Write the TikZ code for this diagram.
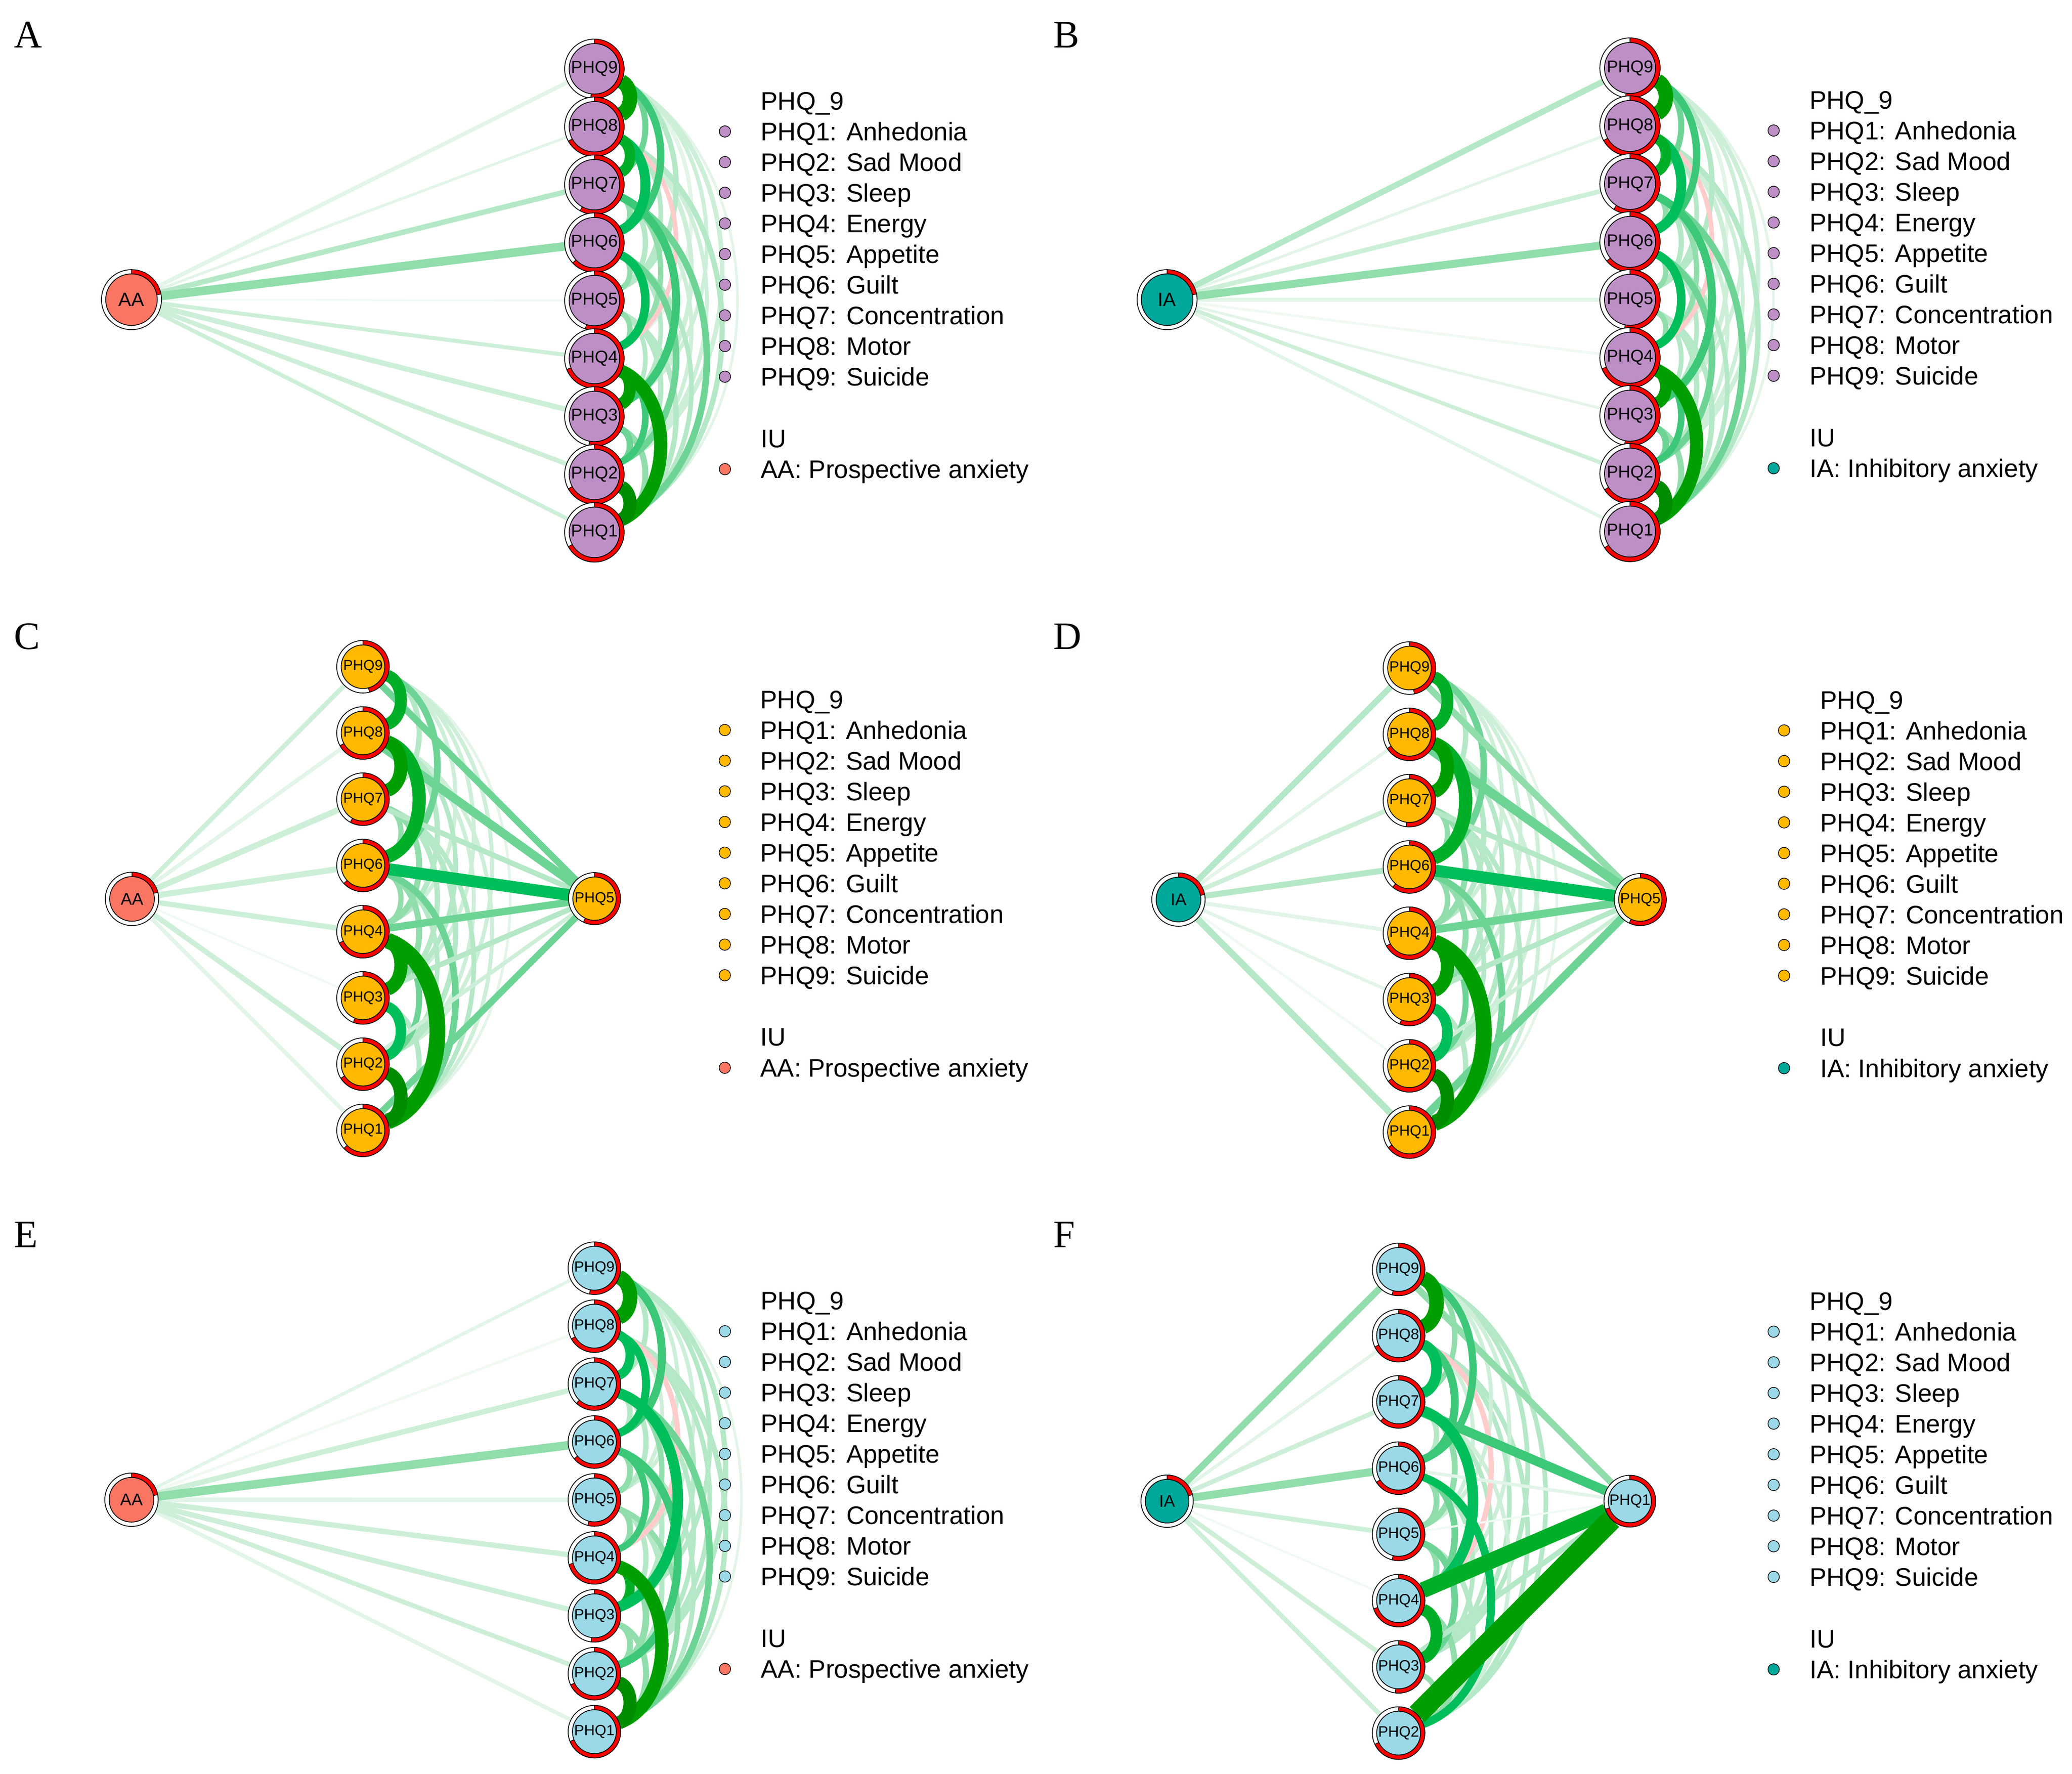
\documentclass[tikz,border=0pt]{standalone}
\usepackage{fontspec}
\setmainfont{Liberation Sans}
\newfontfamily\letterfont{Liberation Serif}
\definecolor{npurple}{RGB}{190,143,198}
\definecolor{norange}{RGB}{255,185,0}
\definecolor{nblue}{RGB}{155,217,232}
\definecolor{nsalmon}{RGB}{250,118,98}
\definecolor{nteal}{RGB}{0,168,155}
\definecolor{g11}{RGB}{0,140,0}
\definecolor{g10}{RGB}{0,158,0}
\definecolor{g9}{RGB}{0,174,40}
\definecolor{g8}{RGB}{0,190,90}
\definecolor{g7}{RGB}{60,200,120}
\definecolor{g6}{RGB}{110,212,150}
\definecolor{g5}{RGB}{145,221,172}
\definecolor{g4}{RGB}{180,232,198}
\definecolor{g3}{RGB}{205,239,216}
\definecolor{g2}{RGB}{226,245,232}
\definecolor{g1}{RGB}{240,250,243}
\definecolor{ng}{RGB}{255,204,204}
% invisible node used for anchoring connectors
\newcommand\nd[4]{\node[circle,inner sep=0pt,outer sep=0pt,minimum size={2*#4}] (#1) at (#2,{1342.5-(#3)}) {};}
% node drawing: name, R, r, fill, fraction, font size, label
\newcommand\deco[7]{%
  \fill[white] (#1.center) circle[radius=#2];
  \fill[red,shift={(#1.center)}] (90:#2) arc[start angle=90,delta angle={-360*#5},radius=#2] -- ({90-360*#5}:#3) arc[start angle={90-360*#5},delta angle={360*#5},radius=#3] -- cycle;
  \draw[line width=0.5pt,shift={(#1.center)}] (90:#3) -- (90:#2) ({90-360*#5}:#3) -- ({90-360*#5}:#2);
  \draw[line width=0.6pt] (#1.center) circle[radius=#2];
  \filldraw[fill=#4,line width=0.6pt] (#1.center) circle[radius=#3];
  \node[font=\fontsize{#6}{#6}\selectfont,inner sep=0pt] (#1-t) at (#1.center) {#7};
}
\newcommand\ce[4]{\draw[line width=#3pt,draw=#4] (#1) to[bend left=\bnd] (#2);}
\newcommand\se[4]{\draw[line width=#3pt,draw=#4] (#1) -- (#2);}
% legend: prefix, xdot, xtext, yheader, phq colour, iu colour, iu text
\newcommand\legend[7]{%
  \node[leg] (#1h) at (#3,{1342.5-(#4+6.9)}) {PHQ\_9};
  \foreach \kk/\lbl in {1/Anhedonia,2/Sad Mood,3/Sleep,4/Energy,5/Appetite,6/Guilt,7/Concentration,8/Motor,9/Suicide}{
    \node[leg] (#1l\kk) at (#3,{1342.5-(#4+23.2*\kk+6.9)}) {PHQ\kk: \lbl};
    \node[ldot,fill=#5] (#1d\kk) at (#2,{1342.5-(#4+23.2*\kk)}) {};
  }
  \node[leg] (#1i) at (#3,{1342.5-(#4+255.4+6.9)}) {IU};
  \node[leg] (#1j) at (#3,{1342.5-(#4+278.8+6.9)}) {#7};
  \node[ldot,fill=#6] (#1e) at (#2,{1342.5-(#4+278.8)}) {};
}
\newcommand\colAB[1]{%
 \ce{#19}{#11}{2}{g2}\ce{#19}{#14}{3}{g2}\ce{#19}{#13}{3}{g3}\ce{#18}{#12}{3}{g3}
 \ce{#17}{#12}{3}{g3}\ce{#19}{#12}{3.5}{g3}\ce{#18}{#13}{3.5}{g3}\ce{#18}{#11}{4}{g4}
 \ce{#19}{#15}{4}{g4}\ce{#18}{#15}{3.5}{g4}\ce{#16}{#11}{3.5}{g4}\ce{#16}{#13}{3.5}{g4}
 \ce{#17}{#15}{4}{g4}\ce{#15}{#13}{3.5}{g4}\ce{#15}{#12}{4}{g4}\ce{#15}{#11}{4}{g4}
 \ce{#17}{#16}{4.5}{g5}\ce{#16}{#15}{4}{g5}\ce{#15}{#14}{4}{g5}\ce{#17}{#14}{4}{g5}
 \ce{#13}{#11}{4.5}{g5}\ce{#18}{#14}{3.5}{ng}\ce{#16}{#12}{5}{g6}\ce{#17}{#11}{5}{g6}
 \ce{#13}{#12}{5}{g6}\ce{#19}{#17}{4.5}{g6}\ce{#19}{#16}{5.5}{g7}\ce{#17}{#13}{6}{g7}
 \ce{#14}{#12}{5}{g7}\ce{#16}{#14}{6.5}{g8}\ce{#18}{#16}{7.5}{g8}\ce{#18}{#17}{8}{g9}
 \ce{#14}{#13}{9}{g10}\ce{#14}{#11}{10}{g10}\ce{#19}{#18}{11}{g10}\ce{#12}{#11}{10}{g11}
}
\newcommand\colCDlo[1]{%
 \ce{#19}{#11}{2}{g2}\ce{#18}{#11}{3}{g3}\ce{#19}{#12}{3}{g3}\ce{#19}{#13}{3}{g3}
 \ce{#18}{#12}{3}{g3}\ce{#19}{#14}{3}{g3}\ce{#18}{#13}{3.5}{g4}\ce{#17}{#11}{3.5}{g4}
 \ce{#17}{#12}{4}{g4}\ce{#16}{#12}{3.5}{g4}\ce{#17}{#13}{4}{g4}\ce{#13}{#11}{4}{g4}
 \ce{#19}{#17}{4}{g4}\ce{#18}{#14}{4}{g4}\ce{#17}{#16}{4}{g5}\ce{#16}{#13}{4.5}{g5}
 \ce{#17}{#14}{4.5}{g5}\ce{#16}{#14}{4}{g5}\ce{#14}{#12}{4.5}{g6}\ce{#16}{#11}{5}{g6}
 \ce{#19}{#16}{5}{g6}
}
\newcommand\colCDhi[1]{%
 \ce{#13}{#12}{8}{g8}\ce{#19}{#18}{9}{g9}\ce{#18}{#16}{10}{g9}
 \ce{#18}{#17}{10}{g10}\ce{#14}{#13}{10}{g10}\ce{#14}{#11}{12}{g10}\ce{#12}{#11}{10}{g11}
}
\begin{document}
\begin{tikzpicture}[x=1pt,y=1pt,
  leg/.style={anchor=base west,inner sep=0pt,font=\fontsize{19.2}{23}\selectfont},
  ldot/.style={circle,draw=black,line width=0.5pt,inner sep=0pt,minimum size=8.6pt},
  plet/.style={anchor=base west,inner sep=0pt,font=\letterfont\fontsize{29.4}{30}\selectfont}]
\useasboundingbox (0,0) rectangle (1568,1342.5);
\fill[white] (0,0) rectangle (1568,1342.5);

% ---------------- node anchors ----------------
\foreach \kk in {1,...,9}{\nd{a\kk}{449.8}{52.1+(9-\kk)*43.85}{22.5}}
\nd{aU}{99.5}{226.8}{22.7}
\foreach \kk in {1,...,9}{\nd{b\kk}{1233.5}{51.5+(9-\kk)*43.85}{22.8}}
\nd{bU}{883.2}{226.8}{22.7}
\foreach \kk/\pp in {9/0,8/1,7/2,6/3,4/4,3/5,2/6,1/7}{\nd{c\kk}{274.7}{504.6+\pp*50.13}{19.9}}
\nd{c5}{449.9}{680.1}{19.7}
\nd{cU}{99.9}{680.3}{20.2}
\foreach \kk/\pp in {9/0,8/1,7/2,6/3,4/4,3/5,2/6,1/7}{\nd{d\kk}{1066.6}{505.6+\pp*50.17}{19.9}}
\nd{d5}{1241.3}{680.8}{19.7}
\nd{dU}{891.8}{680.8}{20.2}
\foreach \kk in {1,...,9}{\nd{e\kk}{449.8}{959.8+(9-\kk)*43.84}{19.9}}
\nd{eU}{99.5}{1135}{20.2}
\foreach \kk/\pp in {9/0,8/1,7/2,6/3,5/4,4/5,3/6,2/7}{\nd{f\kk}{1058.4}{960.7+\pp*50.13}{19.9}}
\nd{f1}{1233.4}{1136.1}{19.6}
\nd{fU}{883.2}{1136.1}{19.8}

% ---------------- panel A edges ----------------
\def\bnd{65}
\se{aU}{a5}{1.5}{g1}\se{aU}{a8}{2}{g2}\se{aU}{a9}{3}{g2}\se{aU}{a4}{3}{g3}\se{aU}{a1}{3}{g3}
\se{aU}{a2}{3.5}{g3}\se{aU}{a3}{4}{g3}\se{aU}{a7}{4}{g4}\se{aU}{a6}{6.5}{g5}
\colAB{a}
% ---------------- panel B edges ----------------
\se{bU}{b4}{2}{g1}\se{bU}{b3}{2}{g2}\se{bU}{b8}{2}{g2}\se{bU}{b1}{2.5}{g2}\se{bU}{b5}{3}{g2}
\se{bU}{b2}{3}{g3}\se{bU}{b7}{3.5}{g3}\se{bU}{b9}{4.5}{g4}\se{bU}{b6}{6}{g5}
\colAB{b}
% ---------------- panel C edges ----------------
\def\bnd{70}
\se{cU}{c3}{1.5}{g1}\se{cU}{c8}{3}{g2}\se{cU}{c1}{3}{g2}\se{cU}{c9}{3.5}{g3}\se{cU}{c2}{4}{g3}
\se{cU}{c4}{4}{g3}\se{cU}{c6}{4.5}{g3}\se{cU}{c7}{4.5}{g3}
\colCDlo{c}
\se{c5}{c2}{3}{g3}\se{c5}{c7}{4}{g4}\se{c5}{c3}{4}{g4}\se{c5}{c9}{5}{g6}
\se{c5}{c4}{5.5}{g6}\se{c5}{c1}{5}{g6}\se{c5}{c8}{6.5}{g6}\se{c5}{c6}{9}{g8}
\colCDhi{c}
% ---------------- panel D edges ----------------
\se{dU}{d2}{2}{g1}\se{dU}{d3}{2.5}{g2}\se{dU}{d4}{3}{g2}\se{dU}{d8}{2.5}{g2}\se{dU}{d7}{3.5}{g3}
\se{dU}{d6}{4.5}{g4}\se{dU}{d9}{4.5}{g4}\se{dU}{d1}{5}{g4}
\colCDlo{d}
\se{d5}{d2}{3}{g3}\se{d5}{d7}{4}{g4}\se{d5}{d3}{4}{g4}\se{d5}{d9}{5}{g5}
\se{d5}{d4}{6}{g6}\se{d5}{d1}{6}{g6}\se{d5}{d8}{7}{g6}\se{d5}{d6}{9}{g8}
\colCDhi{d}
% ---------------- panel E edges ----------------
\se{eU}{e8}{2}{g1}\se{eU}{e9}{2.5}{g2}\se{eU}{e1}{3}{g2}\se{eU}{e5}{3.5}{g2}\se{eU}{e2}{3.5}{g3}
\se{eU}{e4}{4}{g3}\se{eU}{e3}{4}{g3}\se{eU}{e7}{4}{g3}\se{eU}{e6}{6.5}{g5}
\ce{e9}{e1}{2}{g2}\ce{e9}{e4}{3}{g3}\ce{e8}{e5}{3}{g3}\ce{e9}{e5}{3}{g3}\ce{e9}{e3}{3.5}{g4}
\ce{e9}{e2}{4}{g4}\ce{e8}{e3}{3.5}{g4}\ce{e8}{e2}{3.5}{g4}\ce{e8}{e1}{4}{g4}\ce{e7}{e6}{4}{g4}
\ce{e9}{e7}{4}{g4}\ce{e7}{e5}{4}{g4}\ce{e6}{e3}{4}{g4}\ce{e5}{e2}{4}{g4}\ce{e5}{e3}{4}{g4}
\ce{e7}{e2}{3.5}{g4}\ce{e6}{e1}{3.5}{g4}\ce{e6}{e5}{4.5}{g5}\ce{e5}{e4}{4.5}{g5}\ce{e3}{e1}{4.5}{g5}
\ce{e4}{e2}{5}{g5}\ce{e3}{e2}{4.5}{g5}\ce{e5}{e1}{4}{g5}\ce{e7}{e4}{4}{g5}\ce{e8}{e4}{4}{ng}
\ce{e7}{e1}{5}{g6}\ce{e6}{e4}{5}{g7}\ce{e9}{e6}{6}{g7}\ce{e6}{e2}{6}{g7}\ce{e8}{e6}{6}{g8}
\ce{e8}{e7}{7}{g8}\ce{e4}{e3}{7}{g9}\ce{e7}{e3}{8}{g8}\ce{e4}{e1}{10}{g10}\ce{e9}{e8}{11}{g10}
\ce{e2}{e1}{10}{g11}
% ---------------- panel F edges ----------------
\se{fU}{f4}{1.5}{g1}\se{fU}{f8}{2.5}{g2}\se{fU}{f5}{3.5}{g3}\se{fU}{f7}{3.5}{g3}\se{fU}{f3}{3.5}{g3}
\se{fU}{f2}{3.5}{g3}\se{fU}{f9}{5}{g5}\se{fU}{f6}{6}{g5}
\ce{f9}{f2}{3.5}{g4}\ce{f9}{f3}{3.5}{g4}\ce{f8}{f2}{3.5}{g4}\ce{f9}{f4}{3}{g3}\ce{f8}{f3}{3.5}{g4}
\ce{f9}{f5}{3}{g3}\ce{f8}{f5}{3}{g3}\ce{f7}{f3}{3.5}{g4}\ce{f6}{f3}{3.5}{g4}\ce{f7}{f2}{3}{g3}
\ce{f7}{f6}{4}{g4}\ce{f5}{f2}{4}{g4}\ce{f9}{f7}{4}{g5}\ce{f7}{f5}{4.5}{g5}\ce{f6}{f5}{4.5}{g5}
\ce{f5}{f4}{4.5}{g5}\ce{f4}{f2}{4.5}{g5}\ce{f3}{f2}{4}{g5}\ce{f5}{f3}{5}{g6}\ce{f6}{f4}{5}{g6}
\ce{f8}{f4}{4}{ng}
\se{f1}{f5}{1.5}{g1}\se{f1}{f6}{2.5}{g2}
\se{f1}{f3}{4}{g4}\se{f1}{f9}{5}{g5}
\ce{f9}{f6}{5.5}{g7}\ce{f8}{f6}{6}{g7}
\se{f1}{f7}{7}{g7}
\ce{f6}{f2}{6}{g8}\ce{f8}{f7}{8}{g8}\ce{f7}{f4}{8}{g8}\ce{f4}{f3}{9}{g9}\ce{f9}{f8}{11}{g10}
\se{f1}{f4}{12}{g9}\se{f1}{f2}{16}{g10}

% ---------------- nodes ----------------
\foreach \kk/\fr in {9/.52,8/.67,7/.58,6/.63,5/.55,4/.69,3/.53,2/.67,1/.67}{\deco{a\kk}{22.5}{19.1}{npurple}{\fr}{13}{PHQ\kk}}
\deco{aU}{22.7}{19.5}{nsalmon}{.22}{14.5}{AA}
\foreach \kk/\fr in {9/.525,8/.67,7/.59,6/.64,5/.53,4/.69,3/.53,2/.66,1/.66}{\deco{b\kk}{22.8}{19.3}{npurple}{\fr}{12.9}{PHQ\kk}}
\deco{bU}{22.7}{19.5}{nteal}{.22}{14.5}{IA}
\foreach \kk/\fr in {9/.46,8/.67,7/.58,6/.63,4/.68,3/.56,2/.66,1/.63}{\deco{c\kk}{19.9}{16.5}{norange}{\fr}{11}{PHQ\kk}}
\deco{c5}{19.7}{16.4}{norange}{.57}{11}{PHQ5}
\deco{cU}{20.2}{16.9}{nsalmon}{.21}{12.8}{AA}
\foreach \kk/\fr in {9/.47,8/.66,7/.52,6/.61,4/.67,3/.56,2/.65,1/.65}{\deco{d\kk}{19.9}{16.5}{norange}{\fr}{11.2}{PHQ\kk}}
\deco{d5}{19.7}{16.4}{norange}{.57}{11.2}{PHQ5}
\deco{dU}{20.2}{16.9}{nteal}{.22}{12.8}{IA}
\foreach \kk/\fr in {9/.53,8/.67,7/.62,6/.64,5/.54,4/.71,3/.52,2/.68,1/.69}{\deco{e\kk}{19.9}{16.6}{nblue}{\fr}{11.2}{PHQ\kk}}
\deco{eU}{20.2}{16.9}{nsalmon}{.22}{12.8}{AA}
\foreach \kk/\fr in {9/.54,8/.68,7/.62,6/.66,5/.54,4/.70,3/.52,2/.68}{\deco{f\kk}{19.9}{16.6}{nblue}{\fr}{11.4}{PHQ\kk}}
\deco{f1}{19.6}{16.3}{nblue}{.70}{11.4}{PHQ1}
\deco{fU}{19.8}{16.5}{nteal}{.21}{12.7}{IA}

% ---------------- legends ----------------
\legend{la}{548.6}{575.6}{76.3}{npurple}{nsalmon}{AA: Prospective anxiety}
\legend{lb}{1342.2}{1369.3}{75.6}{npurple}{nteal}{IA: Inhibitory anxiety}
\legend{lc}{548.5}{575.2}{529.3}{norange}{nsalmon}{AA: Prospective anxiety}
\legend{ld}{1350.1}{1377.3}{529.6}{norange}{nteal}{IA: Inhibitory anxiety}
\legend{le}{548.6}{575.6}{984.3}{nblue}{nsalmon}{AA: Prospective anxiety}
\legend{lf}{1342.2}{1369.3}{984.6}{nblue}{nteal}{IA: Inhibitory anxiety}

% ---------------- panel letters ----------------
\node[plet] (pA) at (10.4,{1342.5-36.1}) {A};
\node[plet] (pB) at (797,{1342.5-36.1}) {B};
\node[plet] (pC) at (10.4,{1342.5-491.3}) {C};
\node[plet] (pD) at (797,{1342.5-491.3}) {D};
\node[plet] (pE) at (10.4,{1342.5-943.9}) {E};
\node[plet] (pF) at (797,{1342.5-943.9}) {F};
\end{tikzpicture}
\end{document}
